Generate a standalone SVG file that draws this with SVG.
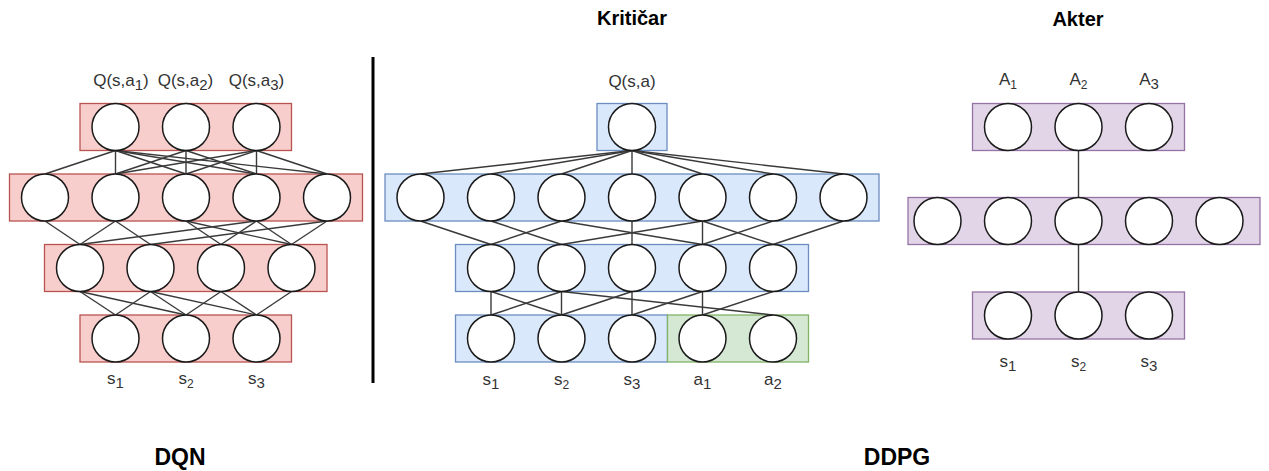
<svg xmlns="http://www.w3.org/2000/svg" width="1269" height="471" viewBox="0 0 1269 471">
<style>
.red{fill:#f8cecc;stroke:#b85450;stroke-width:1.3}
.blue{fill:#dae8fc;stroke:#6c8ebf;stroke-width:1.3}
.green{fill:#d5e8d4;stroke:#82b366;stroke-width:1.3}
.purple{fill:#e1d5e7;stroke:#9673a6;stroke-width:1.3}
.n{fill:#ffffff;stroke:#1a1a1a;stroke-width:1.5}
.c line{stroke:#3a3a3a;stroke-width:1.4}
.lbl{font-family:"Liberation Sans",Arial,sans-serif;font-size:17px;fill:#333333;text-anchor:middle}
.sb{font-size:15px}
.ss{font-size:12px}
.ttl{font-family:"Liberation Sans",Arial,sans-serif;font-size:20px;font-weight:bold;fill:#000000;text-anchor:middle}
.big{font-size:23px}
</style>
<rect width="1269" height="471" fill="#ffffff"/>

<!-- DQN layers -->
<g id="dqn-out"><rect class="red" x="80" y="103.5" width="211.5" height="47"/></g>
<g id="dqn-h1"><rect class="red" x="9.5" y="174" width="353" height="47"/></g>
<g id="dqn-h2"><rect class="red" x="44.5" y="244.5" width="282.5" height="47"/></g>
<g id="dqn-in"><rect class="red" x="80" y="315" width="211.5" height="47"/></g>

<!-- Critic layers -->
<g id="krit-out"><rect class="blue" x="597" y="103.5" width="70" height="47"/></g>
<g id="krit-h1"><rect class="blue" x="385" y="174" width="494" height="47"/></g>
<g id="krit-h2"><rect class="blue" x="455.5" y="244.5" width="353" height="47"/></g>
<g id="krit-in-s"><rect class="blue" x="455.5" y="315" width="212" height="47"/></g>
<g id="krit-in-a"><rect class="green" x="667.5" y="315" width="141" height="47"/></g>

<!-- Actor layers -->
<g id="akt-out"><rect class="purple" x="972.5" y="103.5" width="212" height="47"/></g>
<g id="akt-h1"><rect class="purple" x="908" y="197.5" width="352" height="47"/></g>
<g id="akt-in"><rect class="purple" x="972.5" y="292" width="212" height="47"/></g>

<!-- connectors -->
<g id="connectors" class="c">
<!-- DQN out -> h1 -->
<line x1="115.5" y1="150.5" x2="45" y2="174"/>
<line x1="115.5" y1="150.5" x2="115.5" y2="174"/>
<line x1="115.5" y1="150.5" x2="186" y2="174"/>
<line x1="115.5" y1="150.5" x2="256.5" y2="174"/>
<line x1="115.5" y1="150.5" x2="327" y2="174"/>
<line x1="186" y1="150.5" x2="115.5" y2="174"/>
<line x1="186" y1="150.5" x2="186" y2="174"/>
<line x1="186" y1="150.5" x2="256.5" y2="174"/>
<line x1="256.5" y1="150.5" x2="115.5" y2="174"/>
<line x1="256.5" y1="150.5" x2="186" y2="174"/>
<line x1="256.5" y1="150.5" x2="256.5" y2="174"/>
<line x1="256.5" y1="150.5" x2="327" y2="174"/>
<!-- DQN h1 -> h2 -->
<line x1="45" y1="221" x2="80" y2="244.5"/>
<line x1="115.5" y1="221" x2="80" y2="244.5"/>
<line x1="256.5" y1="221" x2="80" y2="244.5"/>
<line x1="115.5" y1="221" x2="150.5" y2="244.5"/>
<line x1="327" y1="221" x2="150.5" y2="244.5"/>
<line x1="186" y1="221" x2="221" y2="244.5"/>
<line x1="256.5" y1="221" x2="221" y2="244.5"/>
<line x1="186" y1="221" x2="291.5" y2="244.5"/>
<line x1="256.5" y1="221" x2="291.5" y2="244.5"/>
<line x1="327" y1="221" x2="291.5" y2="244.5"/>
<!-- DQN h2 -> in -->
<line x1="80" y1="291.5" x2="115.5" y2="315"/>
<line x1="80" y1="291.5" x2="186" y2="315"/>
<line x1="150.5" y1="291.5" x2="115.5" y2="315"/>
<line x1="150.5" y1="291.5" x2="186" y2="315"/>
<line x1="150.5" y1="291.5" x2="256.5" y2="315"/>
<line x1="221" y1="291.5" x2="186" y2="315"/>
<line x1="221" y1="291.5" x2="256.5" y2="315"/>
<line x1="291.5" y1="291.5" x2="256.5" y2="315"/>
<!-- Critic out -> h1 -->
<line x1="632" y1="150.5" x2="420.5" y2="174"/>
<line x1="632" y1="150.5" x2="491" y2="174"/>
<line x1="632" y1="150.5" x2="561.5" y2="174"/>
<line x1="632" y1="150.5" x2="632" y2="174"/>
<line x1="632" y1="150.5" x2="702.5" y2="174"/>
<line x1="632" y1="150.5" x2="773" y2="174"/>
<line x1="632" y1="150.5" x2="843.5" y2="174"/>
<!-- Critic h1 -> h2 -->
<line x1="420.5" y1="221" x2="491" y2="244.5"/>
<line x1="561.5" y1="221" x2="491" y2="244.5"/>
<line x1="491" y1="221" x2="561.5" y2="244.5"/>
<line x1="702.5" y1="221" x2="561.5" y2="244.5"/>
<line x1="561.5" y1="221" x2="702.5" y2="244.5"/>
<line x1="632" y1="221" x2="632" y2="244.5"/>
<line x1="702.5" y1="221" x2="702.5" y2="244.5"/>
<line x1="702.5" y1="221" x2="773" y2="244.5"/>
<line x1="773" y1="221" x2="702.5" y2="244.5"/>
<line x1="843.5" y1="221" x2="773" y2="244.5"/>
<!-- Critic h2 -> in -->
<line x1="491" y1="291.5" x2="491" y2="315"/>
<line x1="561.5" y1="291.5" x2="561.5" y2="315"/>
<line x1="632" y1="291.5" x2="632" y2="315"/>
<line x1="702.5" y1="291.5" x2="702.5" y2="315"/>
<line x1="491" y1="291.5" x2="561.5" y2="315"/>
<line x1="561.5" y1="291.5" x2="491" y2="315"/>
<line x1="561.5" y1="291.5" x2="773" y2="315"/>
<line x1="632" y1="291.5" x2="561.5" y2="315"/>
<line x1="702.5" y1="291.5" x2="632" y2="315"/>
<line x1="773" y1="291.5" x2="702.5" y2="315"/>
<!-- Actor -->
<line x1="1078.5" y1="150.5" x2="1078.5" y2="197.5"/>
<line x1="1078.5" y1="244.5" x2="1078.5" y2="292"/>
</g>

<!-- DQN neurons -->
<g id="dqn-out-1"><circle class="n" cx="115.5" cy="127" r="23.5"/></g>
<g id="dqn-out-2"><circle class="n" cx="186" cy="127" r="23.5"/></g>
<g id="dqn-out-3"><circle class="n" cx="256.5" cy="127" r="23.5"/></g>
<g id="dqn-h1-1"><circle class="n" cx="45" cy="197.5" r="23.5"/></g>
<g id="dqn-h1-2"><circle class="n" cx="115.5" cy="197.5" r="23.5"/></g>
<g id="dqn-h1-3"><circle class="n" cx="186" cy="197.5" r="23.5"/></g>
<g id="dqn-h1-4"><circle class="n" cx="256.5" cy="197.5" r="23.5"/></g>
<g id="dqn-h1-5"><circle class="n" cx="327" cy="197.5" r="23.5"/></g>
<g id="dqn-h2-1"><circle class="n" cx="80" cy="268" r="23.5"/></g>
<g id="dqn-h2-2"><circle class="n" cx="150.5" cy="268" r="23.5"/></g>
<g id="dqn-h2-3"><circle class="n" cx="221" cy="268" r="23.5"/></g>
<g id="dqn-h2-4"><circle class="n" cx="291.5" cy="268" r="23.5"/></g>
<g id="dqn-in-1"><circle class="n" cx="115.5" cy="338.5" r="23.5"/></g>
<g id="dqn-in-2"><circle class="n" cx="186" cy="338.5" r="23.5"/></g>
<g id="dqn-in-3"><circle class="n" cx="256.5" cy="338.5" r="23.5"/></g>

<!-- Critic neurons -->
<g id="krit-out-1"><circle class="n" cx="632" cy="127" r="23.5"/></g>
<g id="krit-h1-1"><circle class="n" cx="420.5" cy="197.5" r="23.5"/></g>
<g id="krit-h1-2"><circle class="n" cx="491" cy="197.5" r="23.5"/></g>
<g id="krit-h1-3"><circle class="n" cx="561.5" cy="197.5" r="23.5"/></g>
<g id="krit-h1-4"><circle class="n" cx="632" cy="197.5" r="23.5"/></g>
<g id="krit-h1-5"><circle class="n" cx="702.5" cy="197.5" r="23.5"/></g>
<g id="krit-h1-6"><circle class="n" cx="773" cy="197.5" r="23.5"/></g>
<g id="krit-h1-7"><circle class="n" cx="843.5" cy="197.5" r="23.5"/></g>
<g id="krit-h2-1"><circle class="n" cx="491" cy="268" r="23.5"/></g>
<g id="krit-h2-2"><circle class="n" cx="561.5" cy="268" r="23.5"/></g>
<g id="krit-h2-3"><circle class="n" cx="632" cy="268" r="23.5"/></g>
<g id="krit-h2-4"><circle class="n" cx="702.5" cy="268" r="23.5"/></g>
<g id="krit-h2-5"><circle class="n" cx="773" cy="268" r="23.5"/></g>
<g id="krit-in-1"><circle class="n" cx="491" cy="338.5" r="23.5"/></g>
<g id="krit-in-2"><circle class="n" cx="561.5" cy="338.5" r="23.5"/></g>
<g id="krit-in-3"><circle class="n" cx="632" cy="338.5" r="23.5"/></g>
<g id="krit-in-4"><circle class="n" cx="702.5" cy="338.5" r="23.5"/></g>
<g id="krit-in-5"><circle class="n" cx="773" cy="338.5" r="23.5"/></g>

<!-- Actor neurons -->
<g id="akt-out-1"><circle class="n" cx="1008" cy="127" r="23.5"/></g>
<g id="akt-out-2"><circle class="n" cx="1078.5" cy="127" r="23.5"/></g>
<g id="akt-out-3"><circle class="n" cx="1149" cy="127" r="23.5"/></g>
<g id="akt-h1-1"><circle class="n" cx="937.5" cy="221" r="23.5"/></g>
<g id="akt-h1-2"><circle class="n" cx="1008" cy="221" r="23.5"/></g>
<g id="akt-h1-3"><circle class="n" cx="1078.5" cy="221" r="23.5"/></g>
<g id="akt-h1-4"><circle class="n" cx="1149" cy="221" r="23.5"/></g>
<g id="akt-h1-5"><circle class="n" cx="1219.5" cy="221" r="23.5"/></g>
<g id="akt-in-1"><circle class="n" cx="1008" cy="315.5" r="23.5"/></g>
<g id="akt-in-2"><circle class="n" cx="1078.5" cy="315.5" r="23.5"/></g>
<g id="akt-in-3"><circle class="n" cx="1149" cy="315.5" r="23.5"/></g>

<!-- divider -->
<g id="divider"><line x1="373" y1="57" x2="373" y2="383" stroke="#000000" stroke-width="3"/></g>

<!-- labels -->
<g id="labels">
<text class="lbl" x="121" y="86">Q(s,a<tspan class="sb" dy="4">1</tspan><tspan dy="-4">)</tspan></text>
<text class="lbl" x="185.5" y="86">Q(s,a<tspan class="sb" dy="4">2</tspan><tspan dy="-4">)</tspan></text>
<text class="lbl" x="256.5" y="86">Q(s,a<tspan class="sb" dy="4">3</tspan><tspan dy="-4">)</tspan></text>
<text class="lbl" x="115.5" y="384">s<tspan class="sb" dy="4">1</tspan></text>
<text class="lbl" x="186" y="384">s<tspan class="ss" dy="4">2</tspan></text>
<text class="lbl" x="256.5" y="384">s<tspan class="sb" dy="4">3</tspan></text>

<text class="lbl" x="632" y="87">Q(s,a)</text>
<text class="lbl" x="491" y="385">s<tspan class="sb" dy="4">1</tspan></text>
<text class="lbl" x="561.5" y="385">s<tspan class="ss" dy="4">2</tspan></text>
<text class="lbl" x="632" y="385">s<tspan class="sb" dy="4">3</tspan></text>
<text class="lbl" x="702.5" y="385">a<tspan class="sb" dy="4">1</tspan></text>
<text class="lbl" x="773" y="385">a<tspan class="sb" dy="4">2</tspan></text>

<text class="lbl" x="1008" y="85">A<tspan class="ss" dy="4">1</tspan></text>
<text class="lbl" x="1078.5" y="85">A<tspan class="ss" dy="4">2</tspan></text>
<text class="lbl" x="1149" y="85">A<tspan class="sb" dy="4">3</tspan></text>
<text class="lbl" x="1008" y="367">s<tspan class="sb" dy="4">1</tspan></text>
<text class="lbl" x="1078.5" y="367">s<tspan class="ss" dy="4">2</tspan></text>
<text class="lbl" x="1149" y="367">s<tspan class="sb" dy="4">3</tspan></text>
</g>

<!-- titles -->
<g id="titles">
<text class="ttl" x="632" y="25">Kritičar</text>
<text class="ttl" x="1078" y="26">Akter</text>
<text class="ttl big" x="180" y="465">DQN</text>
<text class="ttl big" x="897" y="465">DDPG</text>
</g>
</svg>
